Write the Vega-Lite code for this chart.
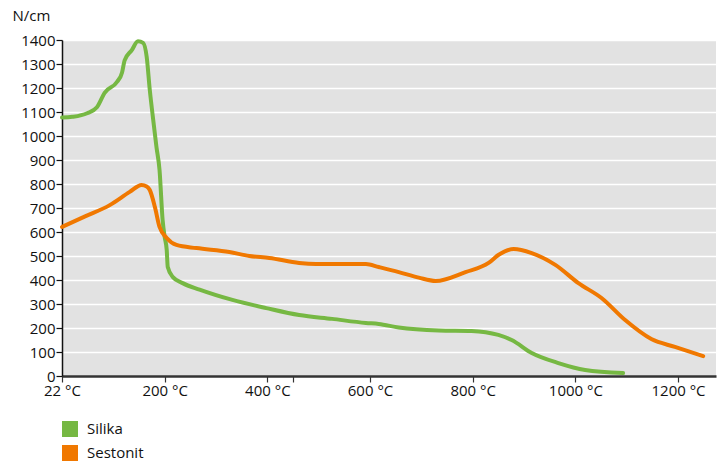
{
  "$schema": "https://vega.github.io/schema/vega-lite/v6.json",
  "width": 654,
  "height": 336,
  "autosize": {"type": "none"},
  "padding": {"left": 62, "top": 40, "right": 10, "bottom": 87},
  "background": "white",
  "config": {
    "view": {"fill": "#e2e2e2", "stroke": null},
    "font": "Open Sans"
  },
  "data": {
    "values": [
      {"series": "Silika", "t": 0, "v": 1077},
      {"series": "Silika", "t": 20, "v": 1080},
      {"series": "Silika", "t": 49, "v": 1095},
      {"series": "Silika", "t": 68, "v": 1120},
      {"series": "Silika", "t": 83, "v": 1180},
      {"series": "Silika", "t": 107, "v": 1225},
      {"series": "Silika", "t": 117, "v": 1265},
      {"series": "Silika", "t": 122, "v": 1315},
      {"series": "Silika", "t": 136, "v": 1358},
      {"series": "Silika", "t": 148, "v": 1395},
      {"series": "Silika", "t": 158, "v": 1388},
      {"series": "Silika", "t": 165, "v": 1329},
      {"series": "Silika", "t": 171, "v": 1192},
      {"series": "Silika", "t": 177, "v": 1079},
      {"series": "Silika", "t": 184, "v": 954},
      {"series": "Silika", "t": 190, "v": 858},
      {"series": "Silika", "t": 196, "v": 650},
      {"series": "Silika", "t": 200, "v": 579},
      {"series": "Silika", "t": 204, "v": 525},
      {"series": "Silika", "t": 206, "v": 454},
      {"series": "Silika", "t": 216, "v": 412},
      {"series": "Silika", "t": 235, "v": 387},
      {"series": "Silika", "t": 268, "v": 360},
      {"series": "Silika", "t": 332, "v": 317},
      {"series": "Silika", "t": 398, "v": 283},
      {"series": "Silika", "t": 462, "v": 254},
      {"series": "Silika", "t": 526, "v": 238},
      {"series": "Silika", "t": 592, "v": 221},
      {"series": "Silika", "t": 617, "v": 217},
      {"series": "Silika", "t": 656, "v": 202},
      {"series": "Silika", "t": 734, "v": 190},
      {"series": "Silika", "t": 798, "v": 188},
      {"series": "Silika", "t": 850, "v": 171},
      {"series": "Silika", "t": 876, "v": 150},
      {"series": "Silika", "t": 915, "v": 96},
      {"series": "Silika", "t": 967, "v": 54},
      {"series": "Silika", "t": 1019, "v": 25},
      {"series": "Silika", "t": 1093, "v": 12},
      {"series": "Sestonit", "t": 0, "v": 621},
      {"series": "Sestonit", "t": 45, "v": 665},
      {"series": "Sestonit", "t": 93, "v": 712},
      {"series": "Sestonit", "t": 132, "v": 767},
      {"series": "Sestonit", "t": 155, "v": 796},
      {"series": "Sestonit", "t": 165, "v": 790},
      {"series": "Sestonit", "t": 171, "v": 775},
      {"series": "Sestonit", "t": 181, "v": 704},
      {"series": "Sestonit", "t": 190, "v": 621},
      {"series": "Sestonit", "t": 204, "v": 575},
      {"series": "Sestonit", "t": 223, "v": 546},
      {"series": "Sestonit", "t": 262, "v": 533},
      {"series": "Sestonit", "t": 326, "v": 517},
      {"series": "Sestonit", "t": 365, "v": 500},
      {"series": "Sestonit", "t": 404, "v": 492},
      {"series": "Sestonit", "t": 462, "v": 471},
      {"series": "Sestonit", "t": 495, "v": 467},
      {"series": "Sestonit", "t": 592, "v": 467},
      {"series": "Sestonit", "t": 617, "v": 454},
      {"series": "Sestonit", "t": 656, "v": 433},
      {"series": "Sestonit", "t": 695, "v": 410},
      {"series": "Sestonit", "t": 728, "v": 396},
      {"series": "Sestonit", "t": 786, "v": 433},
      {"series": "Sestonit", "t": 831, "v": 471},
      {"series": "Sestonit", "t": 850, "v": 504},
      {"series": "Sestonit", "t": 880, "v": 529},
      {"series": "Sestonit", "t": 915, "v": 512},
      {"series": "Sestonit", "t": 961, "v": 463},
      {"series": "Sestonit", "t": 1006, "v": 387},
      {"series": "Sestonit", "t": 1051, "v": 325},
      {"series": "Sestonit", "t": 1097, "v": 233},
      {"series": "Sestonit", "t": 1148, "v": 154},
      {"series": "Sestonit", "t": 1194, "v": 121},
      {"series": "Sestonit", "t": 1249, "v": 83}
    ]
  },
  "mark": {"type": "line", "interpolate": "monotone", "strokeWidth": 4, "strokeCap": "round", "strokeJoin": "round"},
  "encoding": {
    "x": {
      "field": "t",
      "type": "quantitative",
      "scale": {"domain": [0, 1274], "nice": false, "zero": false},
      "axis": {
        "title": null,
        "values": [0, 200, 400, 450, 600, 800, 1000, 1200],
        "labelExpr": "datum.value == 0 ? '22 °C' : (datum.value == 450 ? '' : datum.value + ' °C')",
        "grid": false,
        "domainColor": "#333333",
        "domainWidth": 2.5,
        "tickColor": "#333333",
        "tickWidth": 1.2,
        "tickSize": 6,
        "labelFontSize": 15,
        "labelColor": "#111111",
        "labelPadding": 1,
        "labelFlush": false
      }
    },
    "y": {
      "field": "v",
      "type": "quantitative",
      "scale": {"domain": [0, 1400], "nice": false},
      "axis": {
        "title": "N/cm",
        "titleAngle": 0,
        "titleAlign": "left",
        "titleBaseline": "alphabetic",
        "titleX": -50,
        "titleY": -20,
        "titleFontSize": 15,
        "titleFontWeight": "normal",
        "titleColor": "#111111",
        "values": [0, 100, 200, 300, 400, 500, 600, 700, 800, 900, 1000, 1100, 1200, 1300, 1400],
        "format": "d",
        "gridColor": "white",
        "gridWidth": 1.5,
        "gridOpacity": 1,
        "domainColor": "#111111",
        "domainWidth": 1.5,
        "tickColor": "#111111",
        "tickWidth": 1.2,
        "tickSize": 6,
        "labelFontSize": 15,
        "labelColor": "#111111",
        "labelPadding": 1
      }
    },
    "color": {
      "field": "series",
      "type": "nominal",
      "scale": {"domain": ["Silika", "Sestonit"], "range": ["#76b843", "#f07800"]},
      "legend": {
        "title": null,
        "orient": "none",
        "legendX": 0,
        "legendY": 381,
        "symbolType": "square",
        "symbolSize": 256,
        "symbolStrokeWidth": 0,
        "labelFontSize": 15,
        "labelColor": "#111111",
        "rowPadding": 8,
        "labelOffset": 9,
        "padding": 0,
        "encode": {
          "symbols": {
            "update": {
              "fill": {"scale": "color", "field": "value"},
              "fillOpacity": {"value": 1},
              "strokeWidth": {"value": 0}
            }
          }
        }
      }
    }
  }
}
